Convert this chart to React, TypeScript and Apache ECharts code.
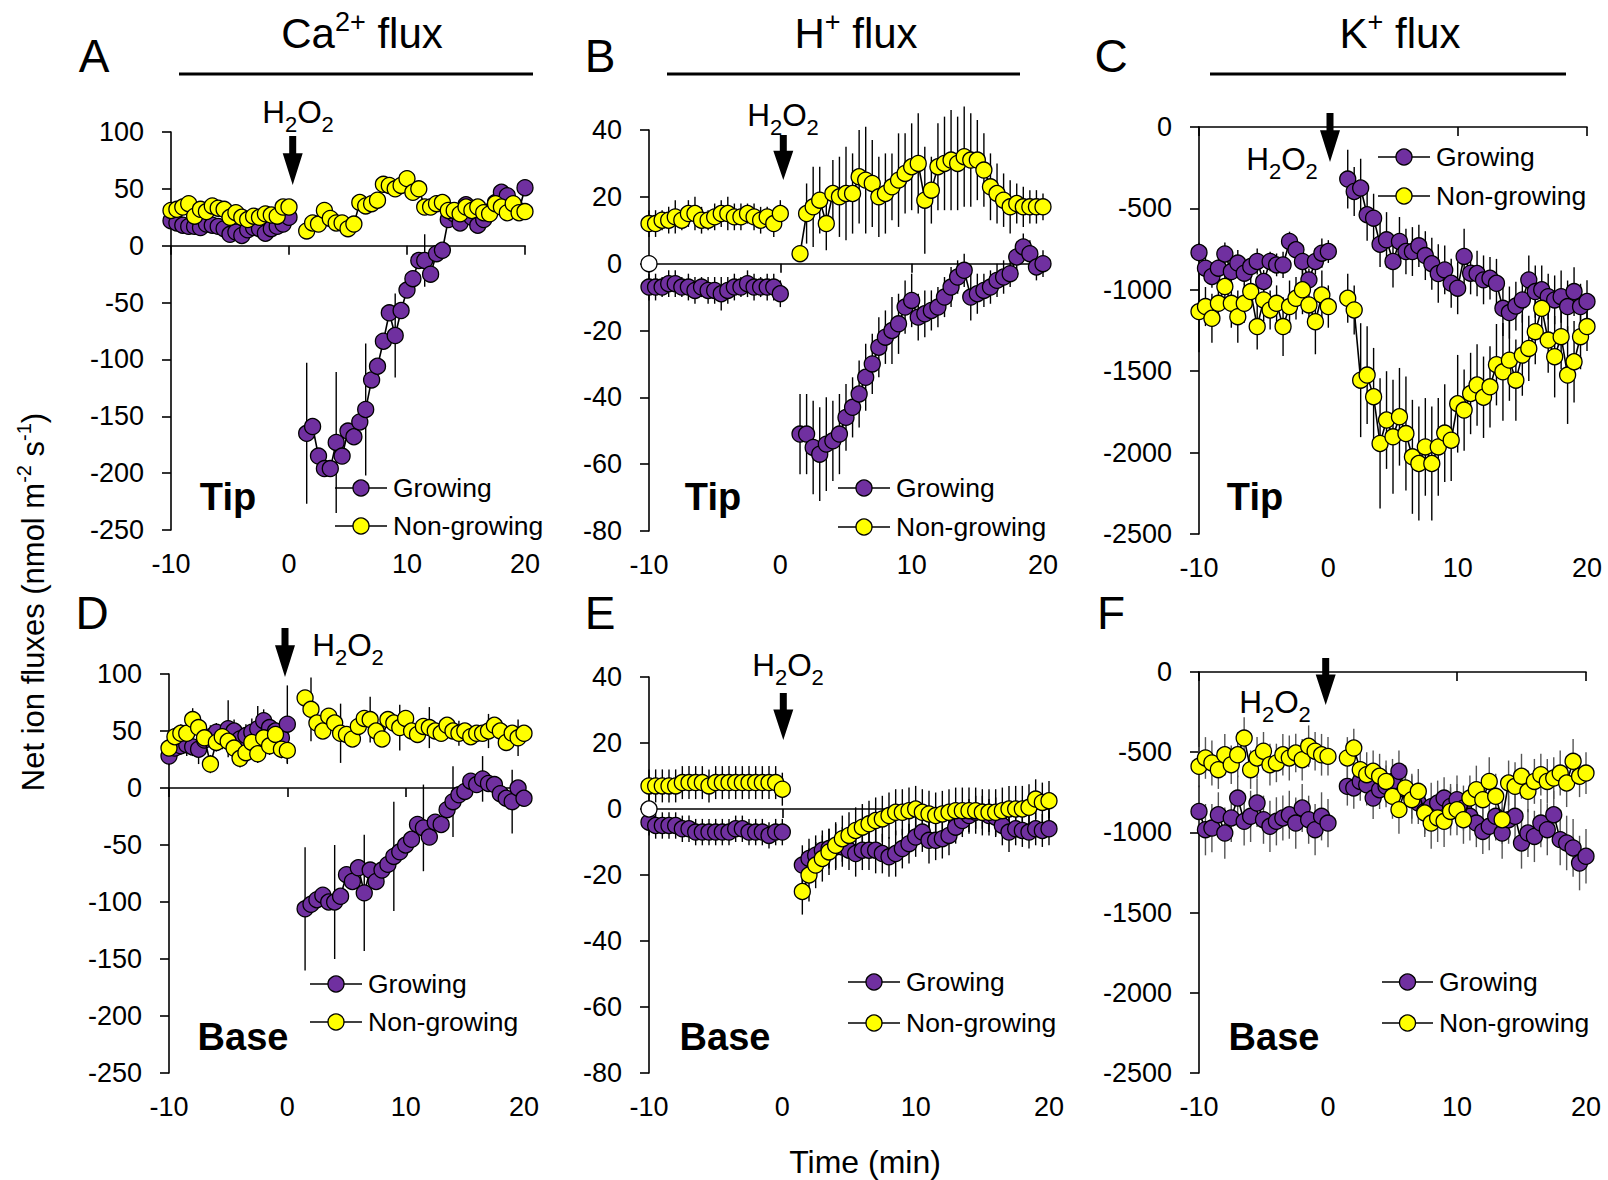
import React, { useEffect, useRef } from 'react';
import * as echarts from 'echarts';

const FONT = '"Liberation Sans", Arial, sans-serif';
const PURPLE = '#7030A0';
const YELLOW = '#FFFF00';

// sampling times (min)
const TIME_PRE = [-10, -9.5, -9, -8.5, -8, -7.5, -7, -6.5, -6, -5.5, -5, -4.5, -4, -3.5, -3, -2.5, -2, -1.5, -1, -0.5, 0];
const TIME_POST = [1.5, 2, 2.5, 3, 3.5, 4, 4.5, 5, 5.5, 6, 6.5, 7, 7.5, 8, 8.5, 9, 9.5, 10, 10.5, 11, 11.5, 12, 12.5, 13, 13.5, 14, 14.5, 15, 15.5, 16, 16.5, 17, 17.5, 18, 18.5, 19, 19.5, 20];
const X_TICKS = [-10, 20, 10];

// A: Ca2+ tip
const A_GROW_PRE = [22, 20, 18, 17, 17, 16, 19, 18, 17, 15, 10, 12, 9, 14, 16, 15, 11, 15, 17, 19, 25];
const A_GROW_POST = [-165, -159, -185, -196, -196, -173, -185, -163, -168, -155, -144, -118, -106, -84, -59, -79, -57, -39, -29, -13, -13, -25, -7, -4, 23, 28, 20, 36, 25, 18, 23, 30, 38, 47, 44, 35, 31, 51];
const A_GROW_POST_ERR = [62, 0, 0, 0, 0, 62, 0, 0, 0, 0, 58, 0, 0, 0, 0, 37, 0, 0, 0, 0, 23, 0, 0, 0, 0, 7, 0, 0, 0, 0, 0, 0, 0, 0, 0, 0, 0, 0];
const A_NON_PRE = [31, 32, 34, 37, 26, 32, 30, 35, 33, 32, 25, 29, 25, 23, 26, 25, 28, 27, 26, 34, 34];
const A_NON_POST = [13, 20, 19, 31, 24, 20, 20, 15, 19, 38, 35, 37, 40, 54, 53, 50, 53, 59, 47, 50, 34, 34, 37, 38, 31, 31, 28, 34, 31, 34, 29, 28, 37, 34, 29, 37, 29, 30];

// B: H+ tip
const B_GROW_PRE = [-7, -7, -7, -6, -6, -7, -7, -8, -7, -8, -8, -9, -8, -7, -7, -6, -7, -7, -7, -7, -9];
const B_GROW_PRE_ERR = [4, 4, 3, 4, 4, 3, 4, 4, 3, 4, 4, 5, 4, 4, 3, 4, 4, 3, 4, 4, 4];
const B_GROW_POST = [-51, -51, -55, -57, -54, -53, -51, -46, -43, -39, -34, -30, -25, -22, -20, -18, -13, -11, -16, -15, -14, -13, -10, -7, -4, -2, -10, -9, -8, -7, -5, -4, -3, 2, 5, 3, -1, 0];
const B_GROW_POST_ERR = [12, 12, 14, 14, 14, 12, 12, 10, 9, 10, 10, 9, 9, 8, 10, 9, 8, 8, 7, 7, 6, 6, 6, 6, 5, 5, 7, 6, 5, 5, 5, 5, 4, 4, 4, 4, 4, 4];
const B_NON_PRE = [12, 12, 13, 13, 14, 13, 15, 15, 13, 13, 14, 15, 15, 14, 14, 15, 14, 13, 14, 12, 15];
const B_NON_PRE_ERR = [4, 4, 3, 4, 5, 3, 4, 5, 4, 3, 4, 4, 5, 4, 4, 3, 4, 4, 3, 4, 4];
const B_NON_POST = [3, 15, 17, 19, 12, 21, 20, 21, 21, 26, 25, 24, 20, 21, 23, 25, 27, 29, 30, 19, 22, 29, 30, 31, 30, 32, 31, 31, 28, 23, 21, 19, 17, 18, 17, 17, 17, 17];
const B_NON_POST_ERR = [0, 9, 12, 10, 8, 10, 12, 14, 12, 14, 16, 13, 12, 12, 10, 14, 12, 13, 15, 16, 10, 13, 14, 15, 14, 15, 14, 12, 11, 10, 9, 8, 8, 6, 6, 5, 5, 4];

// C: K+ tip
const C_GROW_PRE = [-771, -867, -918, -867, -780, -888, -836, -898, -857, -826, -949, -826, -847, -847, -703, -754, -826, -939, -826, -775, -765];
const C_GROW_PRE_ERR = [60, 80, 70, 60, 70, 60, 80, 70, 60, 80, 70, 60, 70, 80, 60, 70, 100, 70, 80, 90, 70];
const C_GROW_POST = [-320, -396, -375, -539, -560, -720, -693, -826, -703, -765, -765, -730, -790, -840, -900, -878, -960, -990, -795, -898, -900, -939, -929, -960, -1114, -1140, -1100, -1062, -939, -1011, -1000, -1042, -1062, -1042, -1103, -1011, -1103, -1072];
const C_GROW_POST_ERR = [180, 150, 180, 160, 150, 140, 170, 160, 150, 140, 150, 130, 150, 160, 180, 150, 150, 160, 170, 130, 140, 150, 130, 150, 170, 160, 150, 140, 150, 160, 150, 140, 150, 160, 160, 150, 140, 130];
const C_NON_PRE = [-1134, -1103, -1175, -1083, -980, -1083, -1165, -1083, -1011, -1226, -1062, -1124, -1083, -1226, -1103, -1052, -1000, -1093, -1196, -1032, -1103];
const C_NON_PRE_ERR = [250, 120, 150, 100, 120, 150, 160, 120, 100, 140, 130, 120, 110, 180, 160, 130, 150, 120, 200, 150, 130];
const C_NON_POST = [-1052, -1124, -1555, -1524, -1657, -1944, -1800, -1903, -1780, -1883, -2026, -2067, -1965, -2067, -1965, -1880, -1924, -1700, -1739, -1637, -1585, -1660, -1596, -1460, -1504, -1432, -1555, -1401, -1360, -1257, -1114, -1309, -1411, -1288, -1524, -1442, -1288, -1226];
const C_NON_POST_ERR = [150, 150, 350, 300, 300, 400, 300, 350, 300, 350, 350, 350, 300, 350, 300, 300, 250, 300, 250, 250, 250, 250, 250, 250, 300, 250, 250, 250, 200, 200, 150, 200, 250, 200, 300, 250, 200, 150];

// D: Ca2+ base
const D_GROW_PRE = [28, 35, 37, 38, 36, 34, 42, 45, 49, 44, 52, 50, 43, 46, 49, 52, 59, 53, 50, 44, 56];
const D_GROW_PRE_ERR = [8, 10, 8, 10, 8, 13, 10, 10, 8, 10, 25, 10, 8, 10, 12, 20, 10, 10, 8, 10, 34];
const D_GROW_POST = [-106, -102, -98, -94, -100, -100, -95, -76, -82, -70, -92, -72, -82, -72, -67, -60, -56, -50, -45, -32, -35, -43, -30, -32, -19, -12, -6, -3, 6, 3, 8, 4, 3, -5, -9, -12, 0, -9];
const D_GROW_POST_ERR = [54, 0, 0, 0, 0, 50, 0, 0, 0, 0, 51, 0, 0, 0, 0, 48, 0, 0, 0, 0, 38, 0, 0, 0, 0, 31, 0, 0, 0, 0, 20, 0, 0, 0, 0, 28, 0, 0];
const D_NON_PRE = [35, 45, 48, 48, 60, 53, 44, 21, 40, 45, 41, 35, 26, 31, 40, 30, 44, 37, 47, 34, 33];
const D_NON_PRE_ERR = [8, 8, 8, 8, 10, 8, 8, 8, 8, 8, 8, 8, 8, 8, 8, 8, 8, 8, 8, 8, 12];
const D_NON_POST = [79, 69, 57, 50, 63, 57, 48, 47, 43, 54, 61, 60, 50, 43, 60, 57, 53, 61, 50, 47, 54, 53, 50, 48, 55, 50, 48, 50, 45, 48, 48, 50, 55, 50, 40, 48, 44, 48];
const D_NON_POST_ERR = [0, 28, 0, 0, 0, 0, 26, 0, 0, 0, 0, 20, 0, 0, 0, 0, 20, 0, 0, 0, 0, 18, 0, 0, 0, 0, 11, 0, 0, 0, 0, 15, 0, 0, 0, 0, 16, 0];

// E: H+ base
const E_GROW_PRE = [-4, -5, -5, -5, -5, -6, -6, -7, -7, -7, -7, -7, -7, -6, -6, -7, -7, -7, -8, -7, -7];
const E_GROW_PRE_ERR = [4, 4, 4, 4, 4, 4, 4, 4, 4, 4, 4, 4, 4, 4, 4, 4, 4, 4, 4, 4, 4];
const E_GROW_POST = [-17, -15, -14, -12.5, -12, -11.5, -11.5, -12.5, -13.5, -12.5, -12.5, -12.5, -13.5, -14.5, -13.5, -12, -10.5, -8.5, -7, -9.5, -9.5, -9, -8, -5.5, -3.5, -2, -1, -1, -2, -2.5, -5, -7, -6, -6.5, -7, -6, -6.5, -6];
const E_GROW_POST_ERR = [6, 6, 6, 6, 6, 7, 6, 6, 7, 6, 6, 7, 6, 6, 7, 6, 6, 6, 6, 7, 6, 6, 6, 5, 5, 5, 5, 5, 5, 6, 6, 6, 5, 5, 5, 5, 5, 5];
const E_NON_PRE = [7, 7, 7, 7, 7, 8, 8, 8, 8, 7, 8, 8, 8, 8, 8, 8, 8, 8, 8, 8, 6];
const E_NON_PRE_ERR = [5, 5, 5, 5, 5, 5, 5, 5, 5, 5, 5, 5, 5, 5, 5, 5, 5, 5, 5, 5, 5];
const E_NON_POST = [-25, -20, -17, -15, -13, -11, -9, -8, -6.5, -5.5, -4.5, -3.5, -3, -2, -1, -1, -0.5, 0, -1, -1.5, -2, -1.5, -1, -0.5, -0.5, -0.5, -0.5, -1, -1, -1, -0.5, 0, 0, 0, 0.5, 3, 2, 2.5];
const E_NON_POST_ERR = [7, 8, 7, 7, 7, 7, 7, 7, 7, 7, 7, 7, 7, 7, 7, 7, 7, 7, 7, 7, 7, 7, 7, 7, 7, 7, 7, 7, 7, 7, 7, 7, 7, 7, 7, 6, 6, 6];

// F: K+ base
const F_GROW_PRE = [-869, -983, -973, -890, -1004, -910, -786, -931, -900, -817, -921, -962, -931, -910, -890, -942, -848, -921, -983, -900, -942];
const F_GROW_PRE_ERR = [150, 160, 150, 140, 160, 150, 140, 150, 160, 150, 150, 160, 150, 140, 150, 160, 150, 150, 160, 150, 150];
const F_GROW_POST = [-713, -723, -682, -703, -786, -734, -713, -682, -619, -734, -775, -817, -869, -840, -817, -786, -838, -796, -848, -900, -942, -994, -962, -900, -1004, -921, -900, -1066, -1004, -1025, -942, -983, -890, -1045, -1066, -1097, -1191, -1149];
const F_GROW_POST_ERR = [120, 130, 120, 130, 130, 120, 130, 140, 130, 130, 140, 130, 140, 150, 140, 130, 140, 150, 140, 150, 150, 140, 150, 150, 160, 150, 150, 160, 150, 160, 150, 160, 150, 160, 170, 180, 170, 170];
const F_NON_PRE = [-588, -536, -567, -609, -516, -578, -516, -412, -609, -536, -494, -578, -567, -516, -536, -505, -547, -463, -494, -516, -526];
const F_NON_PRE_ERR = [120, 130, 140, 120, 130, 120, 140, 130, 120, 130, 120, 130, 120, 130, 140, 120, 130, 130, 120, 130, 120];
const F_NON_POST = [-536, -474, -609, -640, -619, -650, -682, -775, -858, -723, -796, -744, -879, -942, -910, -931, -869, -858, -921, -786, -734, -796, -682, -775, -921, -692, -713, -650, -744, -682, -640, -682, -661, -630, -692, -557, -650, -630];
const F_NON_POST_ERR = [130, 120, 130, 140, 130, 140, 130, 140, 150, 140, 150, 140, 150, 160, 150, 160, 150, 160, 150, 140, 150, 140, 150, 140, 150, 140, 150, 140, 130, 140, 130, 140, 130, 140, 150, 140, 130, 130];

const ORIGIN_POINT = [[-10, 0]];
const Y_RANGES = [
  [-250, 100, 50],
  [-80, 40, 20],
  [-2500, 0, 500],
  [-250, 100, 50],
  [-80, 40, 20],
  [-2500, 0, 500],
];
const SERIES_NAMES = ['Growing', 'Non-growing'];

const PANELS = [
  { grid: { left: 171, top: 132, width: 354, height: 398 }, grow: [A_GROW_PRE, A_GROW_POST], growErr: [null, A_GROW_POST_ERR], non: [A_NON_PRE, A_NON_POST], nonErr: [null, null], errColor: '#000', origin: false,
    arrow: [292.7, 136, 185], h2o2: [298, 112], site: ['Tip', 228, 497], legend: [335, 387, 393, 488, 526] },
  { grid: { left: 649, top: 130, width: 394, height: 401 }, grow: [B_GROW_PRE, B_GROW_POST], growErr: [B_GROW_PRE_ERR, B_GROW_POST_ERR], non: [B_NON_PRE, B_NON_POST], nonErr: [B_NON_PRE_ERR, B_NON_POST_ERR], errColor: '#000', origin: true,
    arrow: [783.3, 135, 180], h2o2: [783, 115], site: ['Tip', 713, 497], legend: [838, 890, 896, 488, 527] },
  { grid: { left: 1199, top: 127, width: 388, height: 407 }, grow: [C_GROW_PRE, C_GROW_POST], growErr: [C_GROW_PRE_ERR, C_GROW_POST_ERR], non: [C_NON_PRE, C_NON_POST], nonErr: [C_NON_PRE_ERR, C_NON_POST_ERR], errColor: '#000', origin: false,
    arrow: [1330, 113, 162], h2o2: [1282, 159], site: ['Tip', 1255, 497], legend: [1378, 1430, 1436, 157, 196] },
  { grid: { left: 169, top: 674, width: 355, height: 399 }, grow: [D_GROW_PRE, D_GROW_POST], growErr: [D_GROW_PRE_ERR, D_GROW_POST_ERR], non: [D_NON_PRE, D_NON_POST], nonErr: [D_NON_PRE_ERR, D_NON_POST_ERR], errColor: '#000', origin: false,
    arrow: [285, 628, 677], h2o2: [348, 645], site: ['Base', 243, 1037], legend: [310, 362, 368, 984, 1022] },
  { grid: { left: 649, top: 677, width: 400, height: 396 }, grow: [E_GROW_PRE, E_GROW_POST], growErr: [E_GROW_PRE_ERR, E_GROW_POST_ERR], non: [E_NON_PRE, E_NON_POST], nonErr: [E_NON_PRE_ERR, E_NON_POST_ERR], errColor: '#000', origin: true,
    arrow: [783.3, 693, 740], h2o2: [788, 665], site: ['Base', 725, 1037], legend: [848, 900, 906, 982, 1023] },
  { grid: { left: 1199, top: 672, width: 387, height: 401 }, grow: [F_GROW_PRE, F_GROW_POST], growErr: [F_GROW_PRE_ERR, F_GROW_POST_ERR], non: [F_NON_PRE, F_NON_POST], nonErr: [F_NON_PRE_ERR, F_NON_POST_ERR], errColor: '#555', origin: false,
    arrow: [1325.7, 658, 705], h2o2: [1275, 702], site: ['Base', 1274, 1037], legend: [1382, 1433, 1439, 982, 1023] },
];

const HEADERS = [
  { letter: 'A', lx: 94, ly: 56, title: 'Ca{p|2+} flux', tx: 362, line: [179, 533] },
  { letter: 'B', lx: 600, ly: 56, title: 'H{p|+} flux', tx: 856, line: [667, 1020] },
  { letter: 'C', lx: 1111, ly: 56, title: 'K{p|+} flux', tx: 1400, line: [1210, 1566] },
  { letter: 'D', lx: 92, ly: 613 },
  { letter: 'E', lx: 600, ly: 613 },
  { letter: 'F', lx: 1111, ly: 613 },
];

function makeData(times: number[], vals: number[], errs: number[] | null) {
  return times.map((t, k) => [t, vals[k], errs ? errs[k] : 0]);
}

function text(x: number, y: number, t: string, fontSize: number, extra: any = {}) {
  return {
    type: 'text', x, y, silent: true, rotation: extra.rotation || 0, z: 100,
    style: {
      text: t, fontSize, fontFamily: FONT, fill: '#000',
      align: extra.align || 'center', verticalAlign: 'middle',
      fontWeight: extra.bold ? 'bold' : 'normal', rich: extra.rich,
    },
  };
}

function buildOption() {
  const grids: any[] = [];
  const xAxes: any[] = [];
  const yAxes: any[] = [];
  const series: any[] = [];
  const graphic: any[] = [];
  const axisLineStyle = { color: '#000', width: 1.6 };

  PANELS.forEach((p, i) => {
    grids.push({ ...p.grid, containLabel: false });
    const [yMin, yMax, yInt] = Y_RANGES[i];
    xAxes.push({
      gridIndex: i, type: 'value', min: X_TICKS[0], max: X_TICKS[1], interval: X_TICKS[2], position: 'bottom',
      axisLine: { show: false, onZero: false }, axisTick: { show: false }, splitLine: { show: false },
      axisLabel: { fontSize: 27, color: '#000', fontFamily: FONT, margin: 20, formatter: (v: number) => String(v) },
    });
    xAxes.push({
      gridIndex: i, type: 'value', min: X_TICKS[0], max: X_TICKS[1], interval: X_TICKS[2], position: 'bottom',
      axisLine: { show: true, onZero: true, lineStyle: axisLineStyle },
      axisTick: { show: true, length: 9, lineStyle: axisLineStyle },
      axisLabel: { show: false }, splitLine: { show: false },
    });
    yAxes.push({
      gridIndex: i, type: 'value', min: yMin, max: yMax, interval: yInt,
      axisLine: { show: true, onZero: false, lineStyle: axisLineStyle },
      axisTick: { show: true, length: 9, lineStyle: axisLineStyle },
      axisLabel: { fontSize: 27, color: '#000', fontFamily: FONT, margin: 27, formatter: (v: number) => String(v) },
      splitLine: { show: false },
    });

    const groups = [
      { name: SERIES_NAMES[0], vals: p.grow, errs: p.growErr, color: PURPLE, z: 3 },
      { name: SERIES_NAMES[1], vals: p.non, errs: p.nonErr, color: YELLOW, z: 4 },
    ];
    groups.forEach((g) => {
      [TIME_PRE, TIME_POST].forEach((times, s) => {
        const data = makeData(times, g.vals[s], g.errs[s]);
        if (g.errs[s]) {
          series.push({
            type: 'custom', xAxisIndex: i * 2, yAxisIndex: i, data, z: 1, silent: true,
            encode: { x: 0, y: 1 },
            renderItem: (params: any, api: any) => {
              const e = api.value(2);
              if (!e) return null;
              const x = api.value(0);
              const y = api.value(1);
              const a = api.coord([x, y + e]);
              const b = api.coord([x, y - e]);
              return { type: 'line', shape: { x1: a[0], y1: a[1], x2: b[0], y2: b[1] }, style: { stroke: p.errColor, lineWidth: 1.4 } };
            },
          });
        }
        series.push({
          type: 'line', name: g.name, xAxisIndex: i * 2, yAxisIndex: i,
          data: data.map((d) => [d[0], d[1]]),
          symbol: 'circle', symbolSize: 16, showSymbol: true, showAllSymbol: true, clip: false,
          itemStyle: { color: g.color, borderColor: '#000', borderWidth: 1.3, opacity: 1 },
          lineStyle: { color: '#000', width: 1.6 }, z: g.z, silent: true,
        });
      });
    });
    if (p.origin) {
      series.push({
        type: 'scatter', xAxisIndex: i * 2, yAxisIndex: i, data: ORIGIN_POINT, symbolSize: 16, z: 5, silent: true,
        itemStyle: { color: '#fff', borderColor: '#000', borderWidth: 1.3, opacity: 1 }, clip: false,
      });
    }

    // arrow
    const [ax, at, tip] = p.arrow;
    const neck = at + (tip - at) * 0.35;
    graphic.push({
      type: 'polygon', silent: true, z: 100,
      shape: { points: [[ax - 3.5, at], [ax + 3.5, at], [ax + 3.5, neck], [ax + 10, neck], [ax, tip], [ax - 10, neck], [ax - 3.5, neck]] },
      style: { fill: '#000' },
    });
    // H2O2 label
    graphic.push(text(p.h2o2[0], p.h2o2[1], 'H{s|2}O{s|2}', 31.5, {
      rich: { s: { fontSize: 22, fontFamily: FONT, fill: '#000', padding: [24, 0, 0, 0] } },
    }));
    // site label
    graphic.push(text(p.site[1] as number, p.site[2] as number, p.site[0] as string, 38, { bold: true }));
    // legend
    const [l1, l2, tx, y1, y2] = p.legend;
    [[y1, PURPLE, SERIES_NAMES[0]], [y2, YELLOW, SERIES_NAMES[1]]].forEach(([yy, col, lab]: any) => {
      graphic.push({ type: 'line', silent: true, z: 100, shape: { x1: l1, y1: yy, x2: l2, y2: yy }, style: { stroke: '#000', lineWidth: 1.6 } });
      graphic.push({ type: 'circle', silent: true, z: 101, shape: { cx: (l1 + l2) / 2, cy: yy, r: 8 }, style: { fill: col, stroke: '#000', lineWidth: 1.3 } });
      graphic.push(text(tx, yy, lab, 26.5, { align: 'left' }));
    });
  });

  HEADERS.forEach((h) => {
    graphic.push(text(h.lx, h.ly, h.letter, 46));
    if (h.title) {
      graphic.push(text(h.tx as number, 33, h.title, 42, {
        rich: { p: { fontSize: 27, fontFamily: FONT, fill: '#000', padding: [0, 0, 22, 0] } },
      }));
      graphic.push({ type: 'line', silent: true, z: 100, shape: { x1: h.line![0], y1: 74, x2: h.line![1], y2: 74 }, style: { stroke: '#000', lineWidth: 3 } });
    }
  });

  graphic.push(text(33, 602, 'Net ion fluxes (nmol m{p|-2} s{p|-1})', 31, {
    rotation: Math.PI / 2,
    rich: { p: { fontSize: 20, fontFamily: FONT, fill: '#000', padding: [0, 0, 18, 0] } },
  }));
  graphic.push(text(865, 1162, 'Time (min)', 32));

  return {
    animation: false,
    backgroundColor: '#fff',
    grid: grids,
    xAxis: xAxes,
    yAxis: yAxes,
    series,
    graphic,
  };
}

export default function App() {
  const ref = useRef<HTMLDivElement>(null);
  useEffect(() => {
    if (!ref.current) return;
    const chart = echarts.init(ref.current, undefined, { renderer: 'svg' });
    chart.setOption(buildOption() as any);
    return () => chart.dispose();
  }, []);
  return <div ref={ref} style={{ position: 'absolute', left: 0, top: 0, width: 1608, height: 1180 }} />;
}
